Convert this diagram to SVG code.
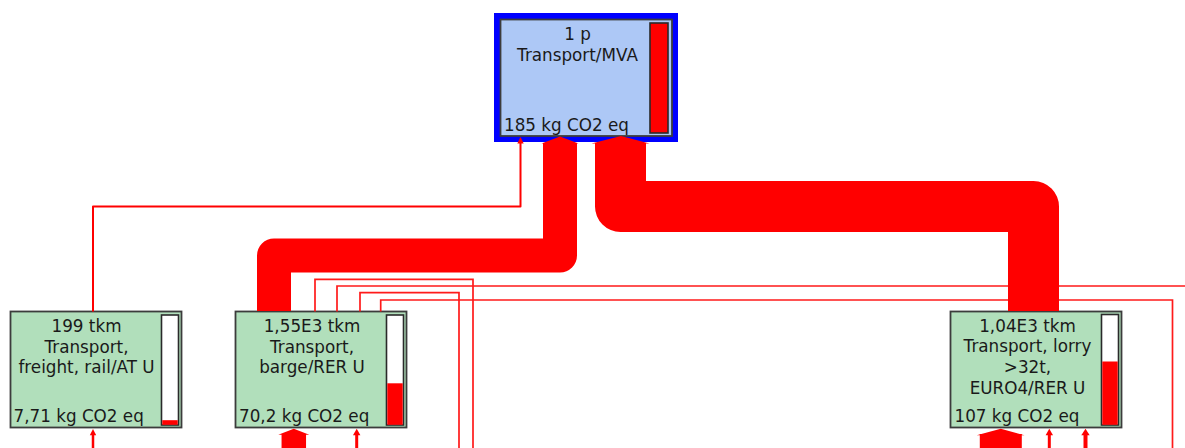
<svg xmlns="http://www.w3.org/2000/svg" width="1185" height="448" viewBox="0 0 1185 448">
<style>
.box{fill:#b1dfbb;stroke:#3c3c3c;stroke-width:1.8}
.boxsel{fill:#adc8f6;stroke:#3c3c3c;stroke-width:1.8}
.bar{fill:#ffffff;stroke:#2a2a2a;stroke-width:1.6}
.lvl{fill:#ff0000}
.t{font-family:"DejaVu Sans","Liberation Sans",sans-serif;font-size:16.8px;fill:#1a1a1a}
.c{text-anchor:middle}
.flow{fill:none;stroke:#ff0000;stroke-linejoin:round;stroke-linecap:butt}
.thin{fill:none;stroke:#ff1a1a;stroke-width:1.7}
.head{fill:#ff0000}
</style>
<rect width="1185" height="448" fill="#ffffff"/>
<g id="node-mva">
<rect x="494" y="13" width="184" height="129" fill="#0000ff"/>
<rect class="boxsel" x="500.5" y="19.5" width="171.5" height="116.5"/>
<rect x="650" y="23" width="18" height="110" fill="#ff0000" stroke="#2a2a2a" stroke-width="1.6"/>
<text class="t c" x="577.5" y="40">1 p</text>
<text class="t c" x="577.5" y="61">Transport/MVA</text>
<text class="t" x="504" y="130.5">185 kg CO2 eq</text>
</g>
<g id="node-rail">
<rect class="box" x="10.5" y="311.5" width="171" height="116"/>
<rect class="bar" x="161.5" y="315" width="17" height="110"/>
<rect class="lvl" x="162.3" y="420.2" width="15.4" height="4.6"/>
<text class="t c" x="86.5" y="331.5">199 tkm</text>
<text class="t c" x="86.5" y="352.5">Transport,</text>
<text class="t c" x="86.5" y="373.3">freight, rail/AT U</text>
<text class="t" x="13.5" y="421.5">7,71 kg CO2 eq</text>
</g>
<g id="node-barge">
<rect class="box" x="235.5" y="311.5" width="171" height="116"/>
<rect class="bar" x="386.5" y="315" width="17" height="110"/>
<rect class="lvl" x="387.3" y="383.3" width="15.4" height="41.5"/>
<text class="t c" x="312" y="331.5">1,55E3 tkm</text>
<text class="t c" x="312" y="352.5">Transport,</text>
<text class="t c" x="312" y="373.3">barge/RER U</text>
<text class="t" x="239" y="421.5">70,2 kg CO2 eq</text>
</g>
<g id="node-lorry">
<rect class="box" x="950.5" y="311.5" width="171" height="116"/>
<rect class="bar" x="1101.5" y="314.5" width="17" height="110.5"/>
<rect class="lvl" x="1102.3" y="361.5" width="15.4" height="63.3"/>
<text class="t c" x="1027.5" y="331.5">1,04E3 tkm</text>
<text class="t c" x="1027.5" y="352.2">Transport, lorry</text>
<text class="t c" x="1027.5" y="372.9">&gt;32t,</text>
<text class="t c" x="1027.5" y="393.6">EURO4/RER U</text>
<text class="t" x="954.5" y="421.5">107 kg CO2 eq</text>
</g>
<g id="connectors">
<path class="thin" d="M315,311.5 V279.3 H473 V448"/>
<path class="thin" d="M337,311.5 V286 H1185"/>
<path class="thin" d="M360,311.5 V292.7 H459 V448"/>
<path class="thin" d="M380.7,311.5 V300 H1172.5 V448"/>
<path class="flow" stroke-width="34" d="M560,143 V255.5 H274 V311"/>
<polygon class="head" points="541.5,143.5 560,136.5 578.5,143.5"/>
<path class="flow" stroke-width="51" d="M620.5,143 V206.5 H1033.5 V311"/>
<polygon class="head" points="591.5,143.5 621,136 649.5,143.5"/>
<path class="flow" stroke-width="2" d="M93,311.5 V206.5 H520.5 V142"/>
<polygon class="head" points="517.3,143.5 520.5,137 523.7,143.5"/>
<path class="flow" stroke-width="2.5" d="M93,448 V434"/>
<polygon class="head" points="89.8,435.3 93,429 96.2,435.3"/>
<path class="flow" stroke-width="24.5" d="M293.8,448 V434"/>
<polygon class="head" points="278.3,434.8 293.8,428.7 309.3,434.8"/>
<path class="flow" stroke-width="3" d="M356.7,448 V434"/>
<polygon class="head" points="353,435.3 356.7,428.7 360.4,435.3"/>
<path class="flow" stroke-width="42" d="M1000.8,448 V434"/>
<polygon class="head" points="976.7,435.3 1000.8,428.7 1024.5,435.3"/>
<path class="flow" stroke-width="3" d="M1049.3,448 V434"/>
<polygon class="head" points="1045.6,435.3 1049.3,428.7 1053,435.3"/>
<path class="flow" stroke-width="4" d="M1085.5,448 V434"/>
<polygon class="head" points="1081.3,435.3 1085.5,428.7 1089.7,435.3"/>
</g>
</svg>
